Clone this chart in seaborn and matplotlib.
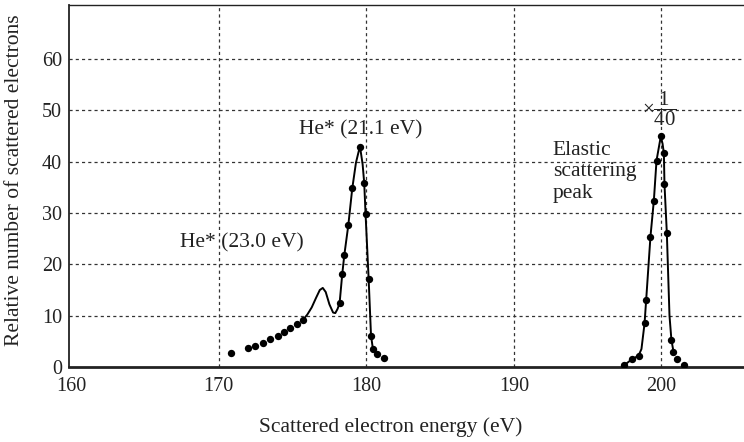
import matplotlib
matplotlib.use("Agg")
import matplotlib.pyplot as plt
import seaborn as sns
import pandas as pd

# Measured points (dots)
he_x = [170.85, 171.98, 172.47, 173.0, 173.49, 173.99, 174.40, 174.85, 175.30, 175.71,
        178.19, 178.37, 178.51, 178.78, 179.05, 179.57, 179.86, 179.95, 180.16, 180.32,
        180.43, 180.72, 181.17]
he_y = [2.8, 3.65, 4.1, 4.75, 5.4, 6.1, 6.8, 7.55, 8.3, 9.2,
        12.4, 18.1, 21.8, 27.6, 34.8, 42.9, 35.8, 29.8, 17.1, 6.1,
        3.6, 2.5, 1.7]
el_x = [197.48, 198.0, 198.45, 198.86, 198.97, 199.26, 199.49, 199.67, 199.96, 200.17,
        200.21, 200.37, 200.68, 200.82, 201.09, 201.54]
el_y = [0.35, 1.5, 2.2, 8.5, 13.1, 25.4, 32.4, 40.2, 44.9, 41.6,
        35.6, 26.1, 5.3, 3.0, 1.6, 0.35]

# Drawn curves
he_curve_x = [175.71, 176.0, 176.3, 176.6, 176.85, 177.05, 177.25, 177.5, 177.75, 177.9,
              178.05, 178.19, 178.37, 178.51, 178.78, 179.05, 179.3, 179.57, 179.75,
              179.86, 179.95, 180.16, 180.32, 180.45]
he_curve_y = [9.2, 10.2, 11.6, 13.5, 15.0, 15.4, 14.6, 12.2, 10.6, 10.5,
              11.3, 12.4, 18.1, 21.8, 27.6, 34.8, 39.8, 43.0, 39.5,
              35.8, 29.8, 17.1, 6.1, 3.5]
el_curve_x = [197.48, 198.0, 198.45, 198.65, 198.86, 198.97, 199.26, 199.49, 199.67,
              199.96, 200.08, 200.17, 200.21, 200.37, 200.55, 200.68, 200.82]
el_curve_y = [0.35, 1.5, 2.2, 3.5, 8.5, 13.1, 25.4, 32.4, 40.2,
              44.9, 43.5, 41.6, 35.6, 26.1, 10.0, 5.3, 3.0]

x_ticks = [160, 170, 180, 190, 200]
y_ticks = [0, 10, 20, 30, 40, 50, 60]

sns.set_theme(style="white")
plt.rcParams['font.family'] = ['Liberation Serif', 'DejaVu Serif']
plt.rcParams['mathtext.fontset'] = 'custom'
plt.rcParams['mathtext.rm'] = 'Liberation Serif'
plt.rcParams['mathtext.it'] = 'Liberation Serif:italic'

fig = plt.figure(figsize=(7.44, 4.42), dpi=100)
ax = fig.add_axes([69/744, 1 - 367/442, 1 - 69/744, (367 - 5)/442])

dots = pd.DataFrame({"x": he_x + el_x, "y": he_y + el_y})
c1 = pd.DataFrame({"x": he_curve_x, "y": he_curve_y})
c2 = pd.DataFrame({"x": el_curve_x, "y": el_curve_y})

sns.lineplot(data=c1, x="x", y="y", sort=False, estimator=None, color="black", lw=1.4, ax=ax)
sns.lineplot(data=c2, x="x", y="y", sort=False, estimator=None, color="black", lw=1.4, ax=ax)
sns.scatterplot(data=dots, x="x", y="y", color="black", s=28, edgecolor="black", linewidth=0, ax=ax, zorder=5)

ax.set_xlim(159.85, 205.6)
ax.set_ylim(0, 70.5)
ax.set_xticks(x_ticks)
ax.set_yticks(y_ticks)
ax.tick_params(axis='both', length=0, labelsize=14.5, colors='#222222')
ax.tick_params(axis='x', pad=7)
ax.tick_params(axis='y', pad=5)

for v in x_ticks[1:]:
    ax.axvline(v, color='#333333', lw=0.9, ls=(0, (2.5, 2.5)), zorder=0)
for v in y_ticks[1:]:
    ax.axhline(v, color='#333333', lw=0.9, ls=(0, (2.5, 2.5)), zorder=0)

ax.spines['right'].set_visible(False)
ax.spines['left'].set_linewidth(1.3)
ax.spines['top'].set_linewidth(1.0)
ax.spines['bottom'].set_linewidth(2.0)
for s in ax.spines.values():
    s.set_color('#222222')

ax.set_xlabel("Scattered electron energy (eV)", fontsize=15.5, color='#222222')
ax.set_ylabel("Relative number of scattered electrons", fontsize=15.5, color='#222222')
ax.xaxis.set_label_coords(0.477, -0.14)
ax.yaxis.set_label_coords(-0.066, 0.517)

ax.text(179.6, 46.2, "He* (21.1 eV)", fontsize=15.5, ha='center', va='center', color='#222222')
ax.text(171.6, 24.2, "He* (23.0 eV)", fontsize=15.5, ha='center', va='center', color='#222222')
ax.text(192.65, 38.0, "Elastic\nscattering\npeak", fontsize=15.5, ha='left', va='center',
        linespacing=1.2, color='#222222')
ax.text(199.85, 50.3, r"$\times\dfrac{1}{40}$", fontsize=15, ha='center', va='center', color='#222222')

fig.savefig("out.png", dpi=100)
